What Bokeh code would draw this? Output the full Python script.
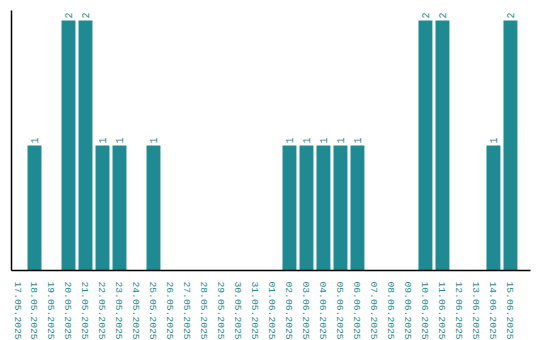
import math
from bokeh.plotting import figure
from bokeh.models import ColumnDataSource, Range1d, FixedTicker
from bokeh.core.properties import value
from bokeh.embed import file_html
from bokeh.resources import INLINE

dates = ["17.05.2025", "18.05.2025", "19.05.2025", "20.05.2025", "21.05.2025",
         "22.05.2025", "23.05.2025", "24.05.2025", "25.05.2025", "26.05.2025",
         "27.05.2025", "28.05.2025", "29.05.2025", "30.05.2025", "31.05.2025",
         "01.06.2025", "02.06.2025", "03.06.2025", "04.06.2025", "05.06.2025",
         "06.06.2025", "07.06.2025", "08.06.2025", "09.06.2025", "10.06.2025",
         "11.06.2025", "12.06.2025", "13.06.2025", "14.06.2025", "15.06.2025"]
counts = [0, 1, 0, 2, 2, 1, 1, 0, 1, 0,
          0, 0, 0, 0, 0, 0, 1, 1, 1, 1,
          1, 0, 0, 0, 2, 2, 0, 0, 1, 2]

COLOR = "#1f8a91"
FONT = "Liberation Mono"

idx = list(range(len(dates)))
src = ColumnDataSource(dict(x=idx, top=counts))
lab_src = ColumnDataSource(dict(
    x=[i for i, c in zip(idx, counts) if c > 0],
    y=[c for c in counts if c > 0],
    t=[str(c) for c in counts if c > 0]))

p = figure(frame_width=519, frame_height=260, output_backend="svg", toolbar_location=None,
           x_range=Range1d(-0.353, 30.18), y_range=Range1d(0, 2.08),
           min_border_left=11, min_border_top=10, min_border_right=2, min_border_bottom=0)
p.vbar(x="x", top="top", width=0.82, bottom=0, source=src, color=COLOR, line_color=None)
p.text(x="x", y="y", text="t", source=lab_src, angle=math.pi / 2, text_align="left",
       text_baseline="middle", y_offset=-2, text_color=COLOR,
       text_font=value(FONT), text_font_size="10px")

p.xgrid.visible = False
p.ygrid.visible = False
p.outline_line_color = None

xa = p.xaxis[0]
xa.ticker = FixedTicker(ticks=idx)
xa.major_label_overrides = {i: d for i, d in zip(idx, dates)}
xa.major_label_orientation = "vertical"
xa.major_label_text_color = COLOR
xa.major_label_text_font = FONT
xa.major_label_text_font_size = "9.7px"
xa.major_tick_line_color = None
xa.minor_tick_line_color = None
xa.major_label_standoff = 5
xa.axis_line_color = "black"
xa.axis_line_width = 1.5

ya = p.yaxis[0]
ya.ticker = FixedTicker(ticks=[])
ya.major_tick_line_color = None
ya.minor_tick_line_color = None
ya.major_label_text_font_size = "0px"
ya.axis_line_color = "black"
ya.axis_line_width = 1.5

open("out.html", "w").write(file_html(p, INLINE))
